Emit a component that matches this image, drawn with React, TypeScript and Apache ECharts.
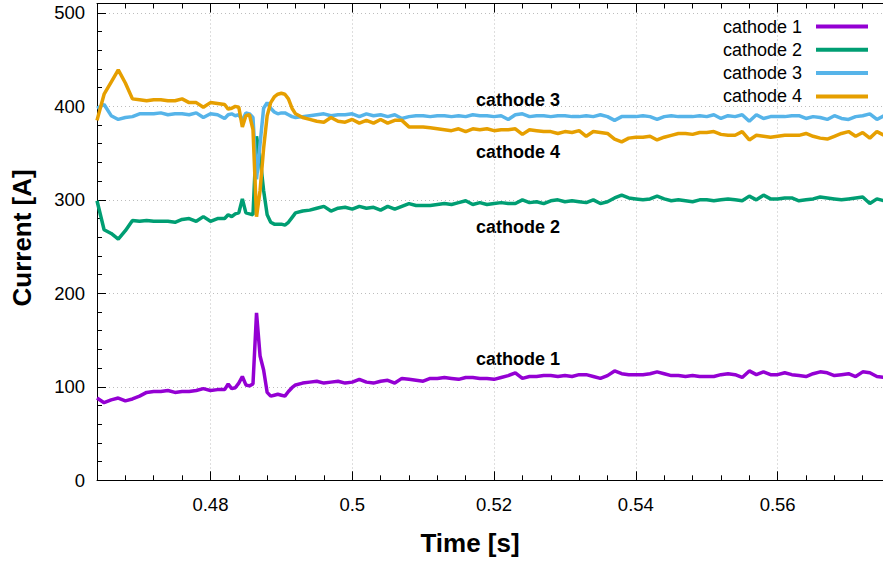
import React, { useEffect, useRef } from 'react';
import * as echarts from 'echarts';

// ---- data (time in s, current in A) ----
const TIME = [
  0.464, 0.465, 0.466, 0.467, 0.468, 0.469, 0.470, 0.471, 0.472, 0.473,
  0.474, 0.475, 0.476, 0.477, 0.478, 0.479, 0.480, 0.481, 0.482,
  0.4825, 0.483, 0.4835, 0.484, 0.4845, 0.485, 0.4855, 0.486, 0.4865, 0.487,
  0.4875, 0.488, 0.4885, 0.489, 0.4895, 0.490, 0.4905, 0.491, 0.4915,
  0.492, 0.493, 0.494, 0.495, 0.496, 0.497, 0.498, 0.499, 0.500, 0.501,
  0.502, 0.503, 0.504, 0.505, 0.506, 0.507, 0.508, 0.509, 0.510, 0.511,
  0.512, 0.513, 0.514, 0.515, 0.516, 0.517, 0.518, 0.519, 0.520, 0.521,
  0.522, 0.523, 0.524, 0.525, 0.526, 0.527, 0.528, 0.529, 0.530, 0.531,
  0.532, 0.533, 0.534, 0.535, 0.536, 0.537, 0.538, 0.539, 0.540, 0.541,
  0.542, 0.543, 0.544, 0.545, 0.546, 0.547, 0.548, 0.549, 0.550, 0.551,
  0.552, 0.553, 0.554, 0.555, 0.556, 0.557, 0.558, 0.559, 0.560, 0.561,
  0.562, 0.563, 0.564, 0.565, 0.566, 0.567, 0.568, 0.569, 0.570, 0.571,
  0.572, 0.573, 0.574, 0.575,
];

const CATHODE_1 = [
  88, 83, 86, 88, 85, 87, 90, 94, 95, 95, 96, 94, 95, 95, 96, 98, 96, 97, 97,
  103, 98, 99, 104, 111, 102, 101, 103, 179, 133, 118, 94, 90, 91, 92, 91, 90, 95, 99,
  102,
  104, 105, 106, 104, 105, 106, 104, 105, 108, 105,
  104, 106, 107, 104, 109, 108, 107, 106, 109, 109,
  110, 109, 108, 110, 110, 109, 109, 108, 110, 112,
  115, 109, 111, 111, 112, 112, 111, 112, 111, 113,
  113, 111, 109, 112, 117, 114, 113, 113, 113, 114,
  116, 114, 112, 112, 111, 112, 111, 111, 111, 113,
  114, 113, 110, 117, 113, 116, 113, 113, 115, 113,
  112, 111, 114, 116, 115, 112, 113, 114, 111, 116,
  115, 111, 110,
];

const CATHODE_2 = [
  299, 268, 264, 258, 267, 278, 277, 278, 277, 277, 277, 276, 279, 280, 277, 282, 277, 280, 280,
  284, 282, 285, 286, 301, 286, 285, 284, 368, 345, 310, 284, 276, 274, 274, 274, 273, 276, 281,
  286,
  288, 289, 291, 293, 288, 291, 292, 290, 293, 291,
  292, 289, 293, 290, 293, 296, 294, 294, 294, 295,
  296, 295, 297, 299, 295, 297, 295, 296, 297, 296,
  296, 300, 297, 298, 296, 299, 300, 298, 299, 298,
  297, 300, 296, 298, 302, 305, 302, 301, 300, 301,
  304, 301, 299, 300, 299, 298, 300, 300, 299, 300,
  301, 300, 299, 304, 300, 305, 301, 301, 302, 302,
  299, 300, 301, 303, 302, 301, 300, 301, 302, 303,
  296, 301, 299,
];

const CATHODE_3 = [
  398, 402, 390, 386, 388, 389, 392, 392, 392, 393, 391, 392, 392, 391, 393, 388, 392, 391, 387,
  391, 392, 390, 391, 385, 393, 392, 388, 322, 360, 398, 404, 398, 394, 392, 393, 393, 391, 389,
  388,
  389, 390, 391, 392, 390, 391, 391, 392, 389, 392,
  390, 391, 389, 391, 387, 389, 390, 390, 389, 390,
  390, 389, 390, 389, 391, 390, 390, 389, 390, 386,
  391, 392, 389, 390, 390, 389, 390, 390, 389, 389,
  390, 389, 391, 389, 385, 389, 389, 389, 390, 389,
  386, 389, 390, 389, 389, 389, 390, 389, 391, 387,
  390, 389, 391, 384, 391, 387, 389, 389, 389, 390,
  390, 387, 389, 388, 386, 390, 387, 386, 389, 390,
  392, 386, 390,
];

const CATHODE_4 = [
  385, 413, 426, 439, 425, 408, 407, 406, 407, 407, 406, 406, 408, 404, 404, 399, 404, 403, 402,
  397, 398, 400, 399, 378, 390, 391, 375, 282, 310, 355, 390, 404, 410, 413, 414, 413, 408, 398,
  392,
  388, 386, 384, 383, 388, 384, 383, 386, 382, 385,
  382, 386, 382, 385, 385, 378, 378, 378, 377, 376,
  375, 374, 376, 373, 376, 375, 376, 374, 375, 375,
  376, 370, 375, 374, 373, 373, 371, 373, 372, 374,
  368, 373, 372, 371, 365, 362, 366, 367, 367, 368,
  364, 367, 369, 371, 371, 370, 372, 372, 373, 370,
  369, 369, 373, 364, 369, 368, 367, 368, 369, 369,
  369, 371, 368, 366, 365, 368, 371, 373, 368, 372,
  366, 373, 369,
];

const SERIES_NAMES = ['cathode 1', 'cathode 2', 'cathode 3', 'cathode 4'];
const SERIES_VALUES = [CATHODE_1, CATHODE_2, CATHODE_3, CATHODE_4];
const SERIES_COLORS = ['#9400d3', '#009e73', '#56b4e9', '#e69f00'];

const X_MAJOR_TICKS = [0.48, 0.5, 0.52, 0.54, 0.56];
const X_MINOR_TICKS = [
  0.468, 0.472, 0.476, 0.484, 0.488, 0.492, 0.496, 0.504, 0.508, 0.512, 0.516,
  0.524, 0.528, 0.532, 0.536, 0.544, 0.548, 0.552, 0.556, 0.564, 0.568, 0.572,
];
const Y_MAJOR_TICKS = [0, 100, 200, 300, 400, 500];
const Y_MINOR_TICKS = [
  20, 40, 60, 80, 120, 140, 160, 180, 220, 240, 260, 280, 320, 340, 360, 380, 420, 440, 460, 480,
];

const X_TITLE = 'Time [s]';
const Y_TITLE = 'Current [A]';
const ANNOTATION_TEXTS = ['cathode 3', 'cathode 4', 'cathode 2', 'cathode 1'];

// ---- layout / style ----
const FONT = '"Liberation Sans", Arial, Helvetica, sans-serif';
const X_MIN = 0.464;
const X_MAX = 0.575;
const Y_MIN = 0;
const Y_MAX = 510;
const GRID = { left: 97, top: 3.5, width: 787, height: 476.8 };
const ANNOTATION_POS = [
  [476, 100],
  [476, 152],
  [476, 227],
  [476, 359],
];

export default function App() {
  const ref = useRef<HTMLDivElement>(null);

  useEffect(() => {
    if (!ref.current) return;
    const chart = echarts.init(ref.current, undefined, { renderer: 'svg' });

    const black = { color: '#000', width: 1 };
    const gridLine = { show: true, lineStyle: { color: '#bdbdbd', width: 1, type: [1, 3] as any } };
    const noLabel = { show: false };

    const xBase = (gridIndex: number, position: string) => ({
      type: 'value',
      gridIndex,
      position,
      min: X_MIN,
      max: X_MAX,
      axisLine: { show: true, onZero: false, lineStyle: black },
      axisLabel: noLabel,
      splitLine: { show: false },
    });
    const yBase = (gridIndex: number) => ({
      type: 'value',
      gridIndex,
      position: 'left',
      min: Y_MIN,
      max: Y_MAX,
      axisLine: { show: true, onZero: false, lineStyle: black },
      axisLabel: noLabel,
      splitLine: { show: false },
    });

    const option: any = {
      animation: false,
      backgroundColor: '#fff',
      textStyle: { fontFamily: FONT },
      grid: [
        { ...GRID, containLabel: false, outerBoundsMode: 'none', show: false },
        { ...GRID, containLabel: false, outerBoundsMode: 'none', show: false },
      ],
      xAxis: [
        {
          ...xBase(0, 'bottom'),
          axisTick: { show: true, inside: true, length: 9, customValues: X_MAJOR_TICKS, lineStyle: black },
          axisLabel: {
            show: true,
            customValues: X_MAJOR_TICKS,
            margin: 15,
            color: '#000',
            fontSize: 18.5,
            fontFamily: FONT,
          },
          splitLine: gridLine,
          name: X_TITLE,
          nameLocation: 'middle',
          nameGap: 50,
          nameTextStyle: {
            color: '#000',
            fontSize: 26,
            fontWeight: 'bold',
            fontFamily: FONT,
            padding: [0, 41, 0, 0],
          },
        },
        {
          ...xBase(0, 'top'),
          axisTick: { show: true, inside: true, length: 9, customValues: X_MAJOR_TICKS, lineStyle: black },
        },
        {
          ...xBase(1, 'bottom'),
          axisLine: { show: false, onZero: false },
          axisTick: { show: true, inside: true, length: 5, customValues: X_MINOR_TICKS, lineStyle: black },
        },
        {
          ...xBase(1, 'top'),
          axisLine: { show: false, onZero: false },
          axisTick: { show: true, inside: true, length: 5, customValues: X_MINOR_TICKS, lineStyle: black },
        },
      ],
      yAxis: [
        {
          ...yBase(0),
          axisTick: { show: true, inside: true, length: 9, customValues: Y_MAJOR_TICKS, lineStyle: black },
          axisLabel: {
            show: true,
            customValues: Y_MAJOR_TICKS,
            margin: 12,
            color: '#000',
            fontSize: 18.5,
            fontFamily: FONT,
          },
          splitLine: gridLine,
          name: Y_TITLE,
          nameLocation: 'middle',
          nameGap: 62,
          nameTextStyle: {
            color: '#000',
            fontSize: 26,
            fontWeight: 'bold',
            fontFamily: FONT,
            padding: [0, 0, 0, 8],
          },
        },
        {
          ...yBase(1),
          axisLine: { show: false, onZero: false },
          axisTick: { show: true, inside: true, length: 5, customValues: Y_MINOR_TICKS, lineStyle: black },
        },
      ],
      legend: {
        show: true,
        data: SERIES_NAMES,
        orient: 'vertical',
        right: 15,
        top: 17.5,
        align: 'right',
        padding: 0,
        itemGap: 5.3,
        itemWidth: 52,
        itemHeight: 4,
        icon: 'rect',
        textStyle: { color: '#000', fontSize: 18, fontFamily: FONT, padding: [0, 9, 0, 0] },
      },
      graphic: ANNOTATION_TEXTS.map((t, i) => ({
        type: 'text',
        x: ANNOTATION_POS[i][0],
        y: ANNOTATION_POS[i][1],
        silent: true,
        style: {
          text: t,
          fill: '#000',
          font: `bold 18px ${FONT}`,
          align: 'left',
          verticalAlign: 'middle',
        },
      })),
      series: SERIES_NAMES.map((name, k) => ({
        name,
        type: 'line',
        xAxisIndex: 0,
        yAxisIndex: 0,
        data: TIME.map((t, i) => [t, SERIES_VALUES[k][i]]),
        showSymbol: false,
        symbol: 'none',
        color: SERIES_COLORS[k],
        lineStyle: { color: SERIES_COLORS[k], width: 3.5 },
        itemStyle: { color: SERIES_COLORS[k] },
        clip: true,
        z: 2 + k,
      })),
    };

    chart.setOption(option);
    return () => chart.dispose();
  }, []);

  return (
    <div
      ref={ref}
      style={{ position: 'absolute', left: 0, top: 0, width: 883, height: 561, background: '#fff' }}
    />
  );
}
